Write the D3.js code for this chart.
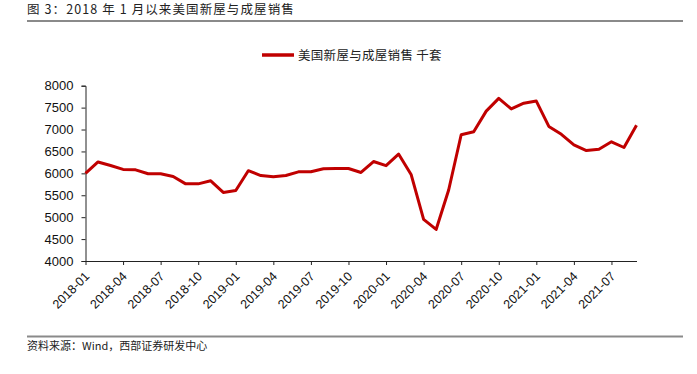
<!DOCTYPE html>
<html>
<head>
<meta charset="utf-8">
<script src="https://cdn.jsdelivr.net/npm/d3@7"></script>
<style>
body { margin: 0; background: #fff; }
text { font-family: "Liberation Sans", Arial, sans-serif; }
.cjk { font-family: "Noto Sans CJK SC", sans-serif; }
</style>
</head>
<body>
<div id="plot"></div>
<script>
// monthly sales, 2018-01 .. 2021-09, thousand units
var months = [];
for (var y = 2018; y <= 2021; y++) {
    for (var m = 1; m <= 12; m++) {
        if (y === 2021 && m > 9) break;
        months.push(y + "-" + (m < 10 ? "0" + m : m));
    }
}
var sales = [6000, 6260, 6180, 6090, 6080, 5990, 5990, 5930, 5760, 5760, 5830, 5565,
             5610, 6060, 5950, 5920, 5950, 6035, 6035, 6105, 6110, 6110, 6020, 6270,
             6175, 6440, 5975, 4950, 4720, 5620, 6880, 6950, 7420, 7710, 7470, 7600,
             7650, 7070, 6890, 6650, 6520, 6550, 6720, 6590, 7100];
var yTicks = [4000, 4500, 5000, 5500, 6000, 6500, 7000, 7500, 8000];
var xTickLabels = months.filter(function(d, i){ return i % 3 === 0; });

var svg = d3.select("#plot")
            .append("svg")
            .attr("width", 697)
            .attr("height", 374);

var plot = { left: 85.5, right: 636.5, top: 85.7, bottom: 261 };

// title + rule
svg.append("text")
    .attr("class", "cjk")
    .attr("x", 27)
    .attr("y", 14)
    .style("font-size", "12.5px")
    .style("letter-spacing", "1.1px")
    .attr("fill", "#222")
    .text("图 3：2018 年 1 月以来美国新屋与成屋销售");
svg.append("line")
    .attr("x1", 27).attr("x2", 683)
    .attr("y1", 21).attr("y2", 21)
    .attr("stroke", "#8a8a8a")
    .attr("stroke-width", 2);

// footer
svg.append("line")
    .attr("x1", 27).attr("x2", 683)
    .attr("y1", 336.5).attr("y2", 336.5)
    .attr("stroke", "#8a8a8a")
    .attr("stroke-width", 2);
svg.append("text")
    .attr("class", "cjk")
    .attr("x", 27)
    .attr("y", 349.5)
    .style("font-size", "11px")
    .attr("fill", "#222")
    .text("资料来源：Wind，西部证券研发中心");

// legend
svg.append("line")
    .attr("x1", 262).attr("x2", 294)
    .attr("y1", 55).attr("y2", 55)
    .attr("stroke", "#c00000")
    .attr("stroke-width", 3.5);
svg.append("text")
    .attr("class", "cjk")
    .attr("x", 298)
    .attr("y", 59.5)
    .style("font-size", "12.5px")
    .style("letter-spacing", "0.3px")
    .attr("fill", "#222")
    .text("美国新屋与成屋销售 千套");

var xScale = d3.scalePoint()
                .domain(months)
                .range([plot.left, plot.right]),
    yScale = d3.scaleLinear()
                .domain([4000, 8000])
                .range([plot.bottom, plot.top]);

var g_y = svg.append("g")
            .attr("transform", "translate(" + plot.left + ",0)")
            .call(d3.axisLeft(yScale).tickValues(yTicks).tickSize(4).tickPadding(8).tickFormat(d3.format("d")));
g_y.selectAll("text").style("font-size", "13px").attr("fill", "#111");

var g_x = svg.append("g")
            .attr("transform", "translate(0," + plot.bottom + ")")
            .call(d3.axisBottom(xScale).tickValues(xTickLabels).tickSize(4).tickSizeOuter(0));
g_x.selectAll("text")
    .style("font-size", "12.5px")
    .attr("fill", "#111")
    .attr("text-anchor", "end")
    .attr("x", 0)
    .attr("y", 0)
    .attr("dy", "0.35em")
    .attr("transform", "translate(1,13) rotate(-45)");

svg.selectAll(".domain, .tick line").attr("stroke", "#222");

svg.append("path")
    .datum(sales)
    .attr("fill", "none")
    .attr("stroke", "#c00000")
    .attr("stroke-width", 3)
    .attr("stroke-linejoin", "round")
    .attr("d", d3.line()
        .x(function(d, i){ return xScale(months[i]); })
        .y(function(d){ return yScale(d); }));
</script>
</body>
</html>
